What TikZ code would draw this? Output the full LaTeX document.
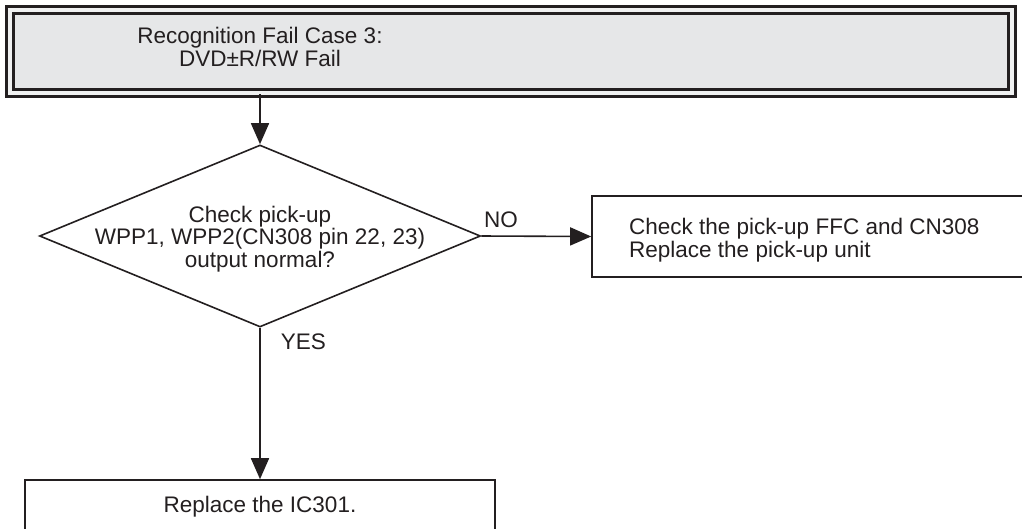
\documentclass[tikz,border=0pt]{standalone}
\usepackage{fontspec}
\setmainfont{Liberation Sans}
\usetikzlibrary{positioning,shapes.geometric,arrows.meta}
\definecolor{ink}{RGB}{35,31,32}
\definecolor{panel}{RGB}{230,231,232}

\begin{document}
\begin{tikzpicture}[x=1pt,y=-1pt,
  every node/.style={text=ink,font=\fontsize{22.5}{22.5}\selectfont},
  flow/.style={draw=ink,line width=1.6pt,-{Triangle[length=21pt,width=18pt]}},
  stepbox/.style={draw=ink,line width=1.6pt,rectangle,inner sep=0pt},
  decision/.style={draw=ink,line width=1.6pt,diamond,inner sep=0pt,minimum width=441pt,minimum height=182pt}]
\useasboundingbox (0,0) rectangle (1022,528);
\clip (0,0) rectangle (1022,528);

% Title box with double frame
\node[draw=ink,line width=3pt,double=panel!60,double distance=4pt,fill=panel,minimum width=1002pt,minimum height=82.5pt,inner sep=0pt] (top) at (511,51.25) {};
\node[align=center] (ttl) at (260,47) {Recognition Fail Case 3:\\DVD±R/RW Fail};

% Decision
\node[decision] (chk) at (260,236) {};
\node[align=center] (chktxt) at (260,239) {Check pick-up\\WPP1, WPP2(CN308 pin 22, 23)\\output normal?};

% Actions
\node[stepbox,minimum width=440pt,minimum height=81pt] (ffc) at (812,236.5) {};
\node[anchor=west,align=left,inner sep=0pt] (ffctxt) at (629,240) {Check the pick-up FFC and CN308\\Replace the pick-up unit};
\node[stepbox,minimum width=470pt,minimum height=54pt] (ic) at (260,507) {Replace the IC301.};

% Connectors
\draw[flow] (ttl |- top.south) -- (chk.north);
\draw[flow] (chk.east) -- node[pos=0.18,above=8pt,inner sep=0pt] (no) {NO} (ffc.west);
\draw[flow] (chk.south) -- node[pos=0.09,right=20pt,inner sep=0pt] (yes) {YES} (ic.north);
\end{tikzpicture}
\end{document}
